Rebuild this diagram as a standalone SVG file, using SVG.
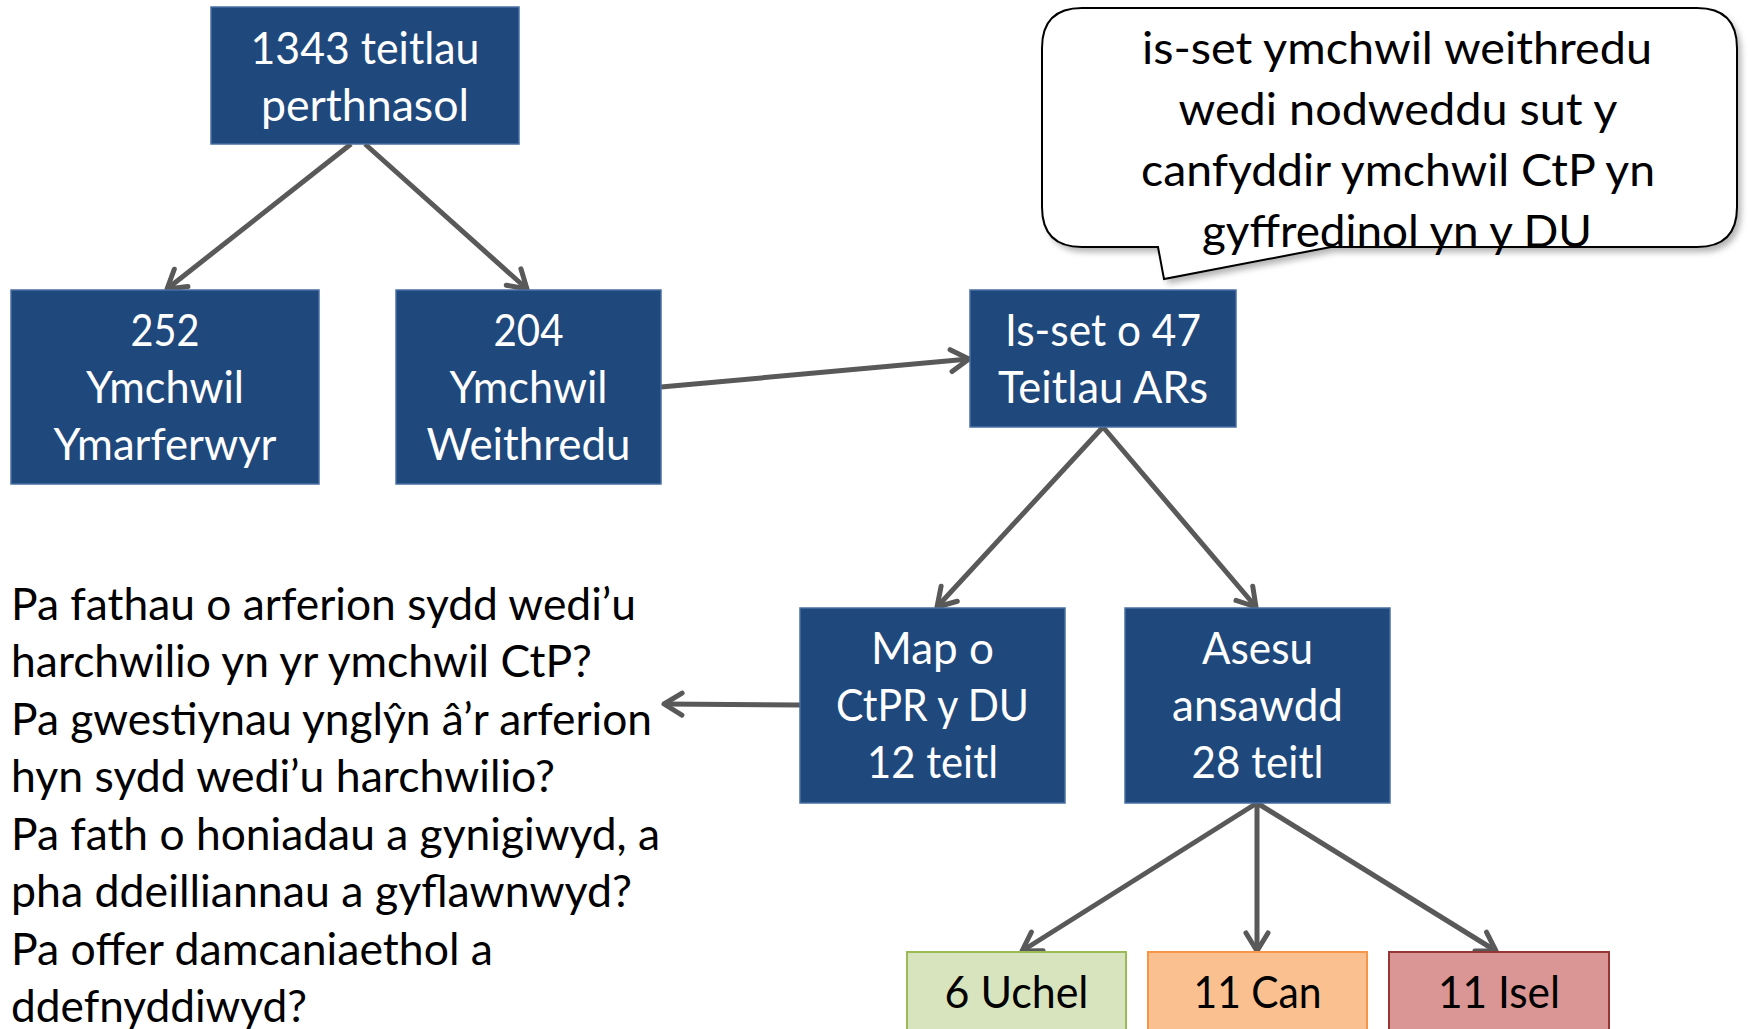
<svg xmlns="http://www.w3.org/2000/svg" width="1748" height="1029" viewBox="0 0 1748 1029">
<style>
.box{fill:#1F497D;stroke:#4A6FA3;stroke-width:1.5}
.wt{font-family:Lato,"Open Sans","DejaVu Sans",sans-serif;font-size:45px;fill:#FFFFFF;text-anchor:middle}
.bt{font-family:Lato,"Open Sans","DejaVu Sans",sans-serif;font-size:45px;fill:#000000;text-anchor:middle}
.lt{font-family:Lato,"Open Sans","DejaVu Sans",sans-serif;font-size:45px;fill:#000000}
.con{stroke:#595959;stroke-width:5;fill:none;marker-end:url(#arr)}
</style>
<defs>
<marker id="arr" viewBox="-26 -18 32 36" refX="0" refY="0" markerWidth="32" markerHeight="36" markerUnits="userSpaceOnUse" orient="auto">
<path d="M-18,-11 L0,0 L-18,11" fill="none" stroke="#595959" stroke-width="5" stroke-linecap="round" stroke-linejoin="round"/>
</marker>
<filter id="sh" x="-5%" y="-5%" width="115%" height="130%">
<feGaussianBlur stdDeviation="3"/>
</filter>
</defs>

<g id="callout">
<path d="M1082,8 H1697 Q1737,8 1737,48 V207 Q1737,247 1697,247 H1331 L1164,279 L1158,247 H1082 Q1042,247 1042,207 V48 Q1042,8 1082,8 Z" transform="translate(4,5)" fill="#808080" opacity="0.6" filter="url(#sh)"/>
<path d="M1082,8 H1697 Q1737,8 1737,48 V207 Q1737,247 1697,247 H1331 L1164,279 L1158,247 H1082 Q1042,247 1042,207 V48 Q1042,8 1082,8 Z" fill="#FFFFFF" stroke="#000000" stroke-width="2"/>
<text class="bt" x="1397" y="64" textLength="510" lengthAdjust="spacingAndGlyphs">is-set ymchwil weithredu</text>
<text class="bt" x="1398" y="125" textLength="439" lengthAdjust="spacingAndGlyphs">wedi nodweddu sut y</text>
<text class="bt" x="1398" y="186" textLength="514" lengthAdjust="spacingAndGlyphs">canfyddir ymchwil CtP yn</text>
<text class="bt" x="1397" y="247" textLength="390" lengthAdjust="spacingAndGlyphs">gyffredinol yn y DU</text>
</g>

<g id="connectors">
<line class="con" x1="351" y1="144" x2="167" y2="289"/>
<line class="con" x1="365" y1="144" x2="527" y2="289"/>
<line class="con" x1="661" y1="387" x2="969" y2="359"/>
<line class="con" x1="1103" y1="427" x2="937" y2="607"/>
<line class="con" x1="1103" y1="427" x2="1256" y2="607"/>
<line class="con" x1="800" y1="705" x2="664" y2="704"/>
<line class="con" x1="1257" y1="803" x2="1022" y2="951"/>
<line class="con" x1="1257" y1="803" x2="1257" y2="951"/>
<line class="con" x1="1257" y1="803" x2="1496" y2="951"/>
</g>

<g id="n1343">
<rect class="box" x="211" y="7" width="308" height="137"/>
<text class="wt" x="365" y="64" textLength="229" lengthAdjust="spacingAndGlyphs">1343 teitlau</text>
<text class="wt" x="365" y="121" textLength="208" lengthAdjust="spacingAndGlyphs">perthnasol</text>
</g>

<g id="n252">
<rect class="box" x="11" y="290" width="308" height="194"/>
<text class="wt" x="165" y="346" textLength="69" lengthAdjust="spacingAndGlyphs">252</text>
<text class="wt" x="165" y="403" textLength="158" lengthAdjust="spacingAndGlyphs">Ymchwil</text>
<text class="wt" x="165" y="460" textLength="223" lengthAdjust="spacingAndGlyphs">Ymarferwyr</text>
</g>

<g id="n204">
<rect class="box" x="396" y="290" width="265" height="194"/>
<text class="wt" x="528.5" y="346" textLength="70" lengthAdjust="spacingAndGlyphs">204</text>
<text class="wt" x="528.5" y="403" textLength="158" lengthAdjust="spacingAndGlyphs">Ymchwil</text>
<text class="wt" x="528.5" y="460" textLength="204" lengthAdjust="spacingAndGlyphs">Weithredu</text>
</g>

<g id="nIsset">
<rect class="box" x="970" y="290" width="266" height="137"/>
<text class="wt" x="1103" y="346" textLength="196" lengthAdjust="spacingAndGlyphs">Is-set o 47</text>
<text class="wt" x="1103" y="403" textLength="210" lengthAdjust="spacingAndGlyphs">Teitlau ARs</text>
</g>

<g id="nMap">
<rect class="box" x="800" y="608" width="265" height="195"/>
<text class="wt" x="932.5" y="664" textLength="123" lengthAdjust="spacingAndGlyphs">Map o</text>
<text class="wt" x="932.5" y="721" textLength="193" lengthAdjust="spacingAndGlyphs">CtPR y DU</text>
<text class="wt" x="932.5" y="778" textLength="131" lengthAdjust="spacingAndGlyphs">12 teitl</text>
</g>

<g id="nAsesu">
<rect class="box" x="1125" y="608" width="265" height="195"/>
<text class="wt" x="1257.5" y="664" textLength="111" lengthAdjust="spacingAndGlyphs">Asesu</text>
<text class="wt" x="1257.5" y="721" textLength="171" lengthAdjust="spacingAndGlyphs">ansawdd</text>
<text class="wt" x="1257.5" y="778" textLength="132" lengthAdjust="spacingAndGlyphs">28 teitl</text>
</g>

<g id="nUchel">
<rect x="907" y="952" width="219" height="100" fill="#D7E4BD" stroke="#9BBB59" stroke-width="2"/>
<text class="bt" x="1016.5" y="1008" textLength="144" lengthAdjust="spacingAndGlyphs">6 Uchel</text>
</g>

<g id="nCan">
<rect x="1148" y="952" width="219" height="100" fill="#FAC090" stroke="#F79646" stroke-width="2"/>
<text class="bt" x="1257.5" y="1008" textLength="128" lengthAdjust="spacingAndGlyphs">11 Can</text>
</g>

<g id="nIsel">
<rect x="1389" y="952" width="220" height="100" fill="#D99694" stroke="#953735" stroke-width="2"/>
<text class="bt" x="1499" y="1008" textLength="122" lengthAdjust="spacingAndGlyphs">11 Isel</text>
</g>

<g id="questions">
<text class="lt" x="11" y="620" textLength="625" lengthAdjust="spacingAndGlyphs">Pa fathau o arferion sydd wedi’u</text>
<text class="lt" x="11" y="677" textLength="581" lengthAdjust="spacingAndGlyphs">harchwilio yn yr ymchwil CtP?</text>
<text class="lt" x="11" y="735" textLength="641" lengthAdjust="spacingAndGlyphs">Pa gwestiynau ynglŷn â’r arferion</text>
<text class="lt" x="11" y="792" textLength="544" lengthAdjust="spacingAndGlyphs">hyn sydd wedi’u harchwilio?</text>
<text class="lt" x="11" y="850" textLength="649" lengthAdjust="spacingAndGlyphs">Pa fath o honiadau a gynigiwyd, a</text>
<text class="lt" x="11" y="907" textLength="621" lengthAdjust="spacingAndGlyphs">pha ddeilliannau a gyflawnwyd?</text>
<text class="lt" x="11" y="965" textLength="482" lengthAdjust="spacingAndGlyphs">Pa offer damcaniaethol a</text>
<text class="lt" x="11" y="1022" textLength="296" lengthAdjust="spacingAndGlyphs">ddefnyddiwyd?</text>
</g>
</svg>
